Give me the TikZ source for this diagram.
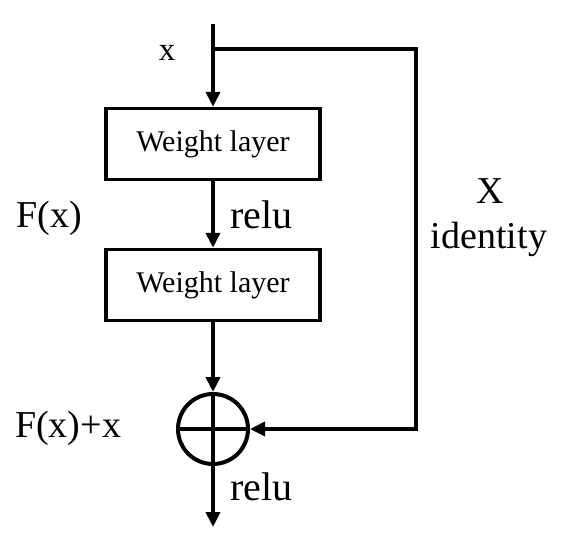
\documentclass[tikz,border=0pt]{standalone}
\usepackage{fontspec}
\setmainfont{Liberation Serif}
\usetikzlibrary{arrows.meta}

\begin{document}
\begin{tikzpicture}[x=1pt,y=-1pt,>={Triangle[length=15pt,width=14pt]},
  layer/.style={draw,line width=3.5pt,minimum width=214pt,minimum height=71pt,inner sep=0pt,font=\fontsize{30}{32}\selectfont},
  flow/.style={line width=4pt},
  lab/.style={inner sep=0pt,font=\fontsize{38}{40}\selectfont}]
  \useasboundingbox (0,0) rectangle (566,546);
  % blocks
  \coordinate (in) at (213,24);
  \coordinate (split) at (213,49);
  \node[layer] (w1) at (213,144) {Weight layer};
  \node[layer] (w2) at (213,285) {Weight layer};
  \node[circle,draw,line width=4pt,minimum size=70pt,inner sep=0pt] (sum) at (213,429) {};
  \coordinate (out) at (213,527);
  \coordinate (ne) at (416,49);
  \coordinate (se) at (416,429);
  % main path
  \draw[flow,->] (in) -- (w1.north);
  \draw[flow,->] (w1.south) -- (w2.north);
  \draw[flow,->] (w2.south) -- (sum.north);
  \draw[flow] (sum.north) -- (sum.south);
  \draw[flow] (sum.west) -- (sum.east);
  \draw[flow,->] (sum.south) -- (out);
  % shortcut
  \draw[flow,->] (split) -- (ne) -- (se) -- (sum.east);
  % labels
  \node[lab,anchor=base,font=\fontsize{33}{35}\selectfont] (lx) at (167,60) {x};
  \node[lab,anchor=base] (lf) at (49,227) {F(x)};
  \node[lab,anchor=base west,font=\fontsize{40}{42}\selectfont] (lr1) at (230,228) {relu};
  \node[lab,anchor=base] (lX) at (490,203) {X};
  \node[lab,anchor=base] (lid) at (489,248) {identity};
  \node[lab,anchor=base west] (lsum) at (15,437) {F(x)+x};
  \node[lab,anchor=base west,font=\fontsize{40}{42}\selectfont] (lr2) at (230,500) {relu};
\end{tikzpicture}
\end{document}
